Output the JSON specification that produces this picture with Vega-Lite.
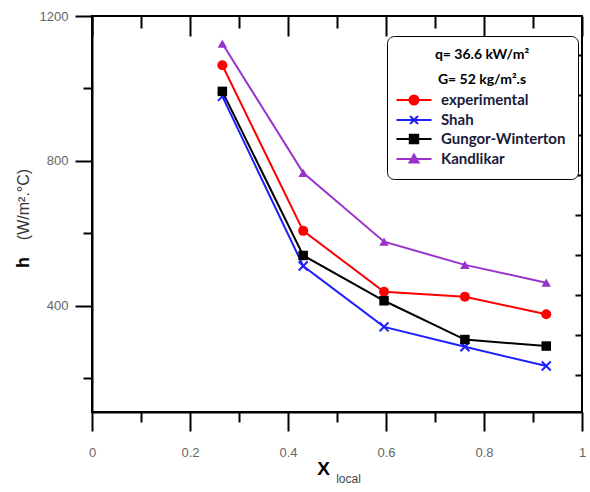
{
  "$schema": "https://vega.github.io/schema/vega-lite/v6.json",
  "autosize": "none",
  "padding": {"left": 92, "top": 16, "right": 8, "bottom": 80},
  "width": 490,
  "height": 396,
  "background": "white",
  "config": {
    "view": {"stroke": "#000", "strokeWidth": 2},
    "axis": {"grid": false, "tickColor": "#000", "tickWidth": 2, "domainColor": "#000", "domainWidth": 2, "labelFont": "Liberation Sans", "labelFontSize": 13, "labelColor": "#666", "labelFlush": false, "titleFont": "Liberation Sans"}
  },
  "data": {"values": [
    {"xl": 0.266, "h": 1064, "series": "experimental"},
    {"xl": 0.431, "h": 607, "series": "experimental"},
    {"xl": 0.596, "h": 439, "series": "experimental"},
    {"xl": 0.761, "h": 425, "series": "experimental"},
    {"xl": 0.927, "h": 377, "series": "experimental"},
    {"xl": 0.266, "h": 978, "series": "Shah"},
    {"xl": 0.431, "h": 510, "series": "Shah"},
    {"xl": 0.596, "h": 342, "series": "Shah"},
    {"xl": 0.761, "h": 287, "series": "Shah"},
    {"xl": 0.927, "h": 234, "series": "Shah"},
    {"xl": 0.266, "h": 992, "series": "Gungor-Winterton"},
    {"xl": 0.431, "h": 539, "series": "Gungor-Winterton"},
    {"xl": 0.596, "h": 414, "series": "Gungor-Winterton"},
    {"xl": 0.761, "h": 307, "series": "Gungor-Winterton"},
    {"xl": 0.927, "h": 289, "series": "Gungor-Winterton"},
    {"xl": 0.266, "h": 1124, "series": "Kandlikar"},
    {"xl": 0.431, "h": 767, "series": "Kandlikar"},
    {"xl": 0.596, "h": 577, "series": "Kandlikar"},
    {"xl": 0.761, "h": 513, "series": "Kandlikar"},
    {"xl": 0.927, "h": 464, "series": "Kandlikar"}
  ]},
  "resolve": {"axis": {"x": "independent", "y": "independent"}},
  "layer": [
    {
      "mark": {"type": "point", "filled": true, "size": 0, "opacity": 1, "strokeWidth": 2},
      "encoding": {
        "x": {"field": "xl", "type": "quantitative", "scale": {"domain": [0, 1], "nice": false, "zero": false}, "axis": null},
        "y": {"field": "h", "type": "quantitative", "scale": {"domain": [107, 1200], "nice": false, "zero": false}, "axis": null},
        "fill": {"field": "series", "type": "nominal",
          "scale": {"domain": ["experimental", "Shah", "Gungor-Winterton", "Kandlikar"], "range": ["#ff0000", "#1f1fff", "#000000", "#9933cc"]},
          "legend": {"orient": "none", "legendX": 295, "legendY": 20,
            "title": ["q= 36.6 kW/m²", "G= 52 kg/m².s"], "titleFont": "Lato", "titleFontSize": 14, "titleFontWeight": "bold", "titleColor": "#000", "titleAnchor": "middle", "titleLineHeight": 25, "titlePadding": 2,
            "labelFont": "Lato", "labelFontSize": 15, "labelFontWeight": "bold", "labelColor": "#1a1a3a", "labelOffset": 16, "labelLimit": 300,
            "symbolSize": 400, "symbolOffset": 4, "symbolStrokeWidth": 2, "symbolOpacity": 1, "rowPadding": 0,
            "strokeColor": "#000", "cornerRadius": 7, "padding": 12, "fillColor": "#fff"}},
        "stroke": {"field": "series", "type": "nominal",
          "scale": {"domain": ["experimental", "Shah", "Gungor-Winterton", "Kandlikar"], "range": ["#ff0000", "#1f1fff", "#000000", "#9933cc"]}},
        "shape": {"field": "series", "type": "nominal",
          "scale": {"domain": ["experimental", "Shah", "Gungor-Winterton", "Kandlikar"],
            "range": ["M-1.75,0H1.75M-0.45,0A0.45,0.45,0,1,0,0.45,0A0.45,0.45,0,1,0,-0.45,0Z", "M-1.75,0H1.75M-0.4,-0.4L0.4,0.4M-0.4,0.4L0.4,-0.4", "M-1.75,0H1.75M-0.42,-0.42H0.42V0.42H-0.42Z", "M-1.75,0H1.75M0,-0.45L0.45,0.35H-0.45Z"]}}
      }
    },
    {
      "mark": {"type": "line", "strokeWidth": 2},
      "encoding": {
        "x": {"field": "xl", "type": "quantitative",
          "axis": {"orient": "bottom", "values": [0, 0.2, 0.4, 0.6, 0.8, 1], "format": ".1~f", "tickSize": 19, "labelPadding": 15,
            "title": "X", "titleFontSize": 19, "titleFontWeight": "bold", "titleColor": "#000", "titleX": 231, "titleY": 56, "titleAlign": "center", "titleBaseline": "middle"}},
        "y": {"field": "h", "type": "quantitative",
          "axis": {"orient": "left", "values": [400, 800, 1200], "format": "d", "tickSize": 17, "labelPadding": 7,
            "title": "h", "titleFontSize": 18, "titleFontWeight": "bold", "titleColor": "#000", "titleX": -69, "titleY": 246, "titleAngle": 270, "titleAlign": "center", "titleBaseline": "middle"}},
        "color": {"field": "series", "type": "nominal", "legend": null,
          "scale": {"domain": ["experimental", "Shah", "Gungor-Winterton", "Kandlikar"], "range": ["#ff0000", "#1f1fff", "#000000", "#9933cc"]}},
        "detail": {"field": "series"}
      }
    },
    {
      "transform": [{"filter": "datum.series === 'experimental'"}],
      "mark": {"type": "point", "shape": "circle", "filled": true, "color": "#ff0000", "opacity": 1, "size": 100},
      "encoding": {
        "x": {"field": "xl", "type": "quantitative",
          "axis": {"orient": "bottom", "values": [0.1, 0.3, 0.5, 0.7, 0.9], "labels": false, "tickSize": 10, "domain": false,
            "title": "local", "titleFontSize": 12, "titleFontWeight": "normal", "titleColor": "#444", "titleX": 256, "titleY": 66, "titleAlign": "center", "titleBaseline": "middle"}},
        "y": {"field": "h", "type": "quantitative",
          "axis": {"orient": "left", "values": [200, 600, 1000], "labels": false, "tickSize": 9, "domain": false,
            "title": "(W/m².°C)", "titleFontSize": 16, "titleFontWeight": "normal", "titleColor": "#333", "titleX": -69, "titleY": 188, "titleAngle": 270, "titleAlign": "center", "titleBaseline": "middle"}}
      }
    },
    {
      "transform": [{"filter": "datum.series === 'Shah'"}],
      "mark": {"type": "point", "shape": "M-1,-1L1,1M-1,1L1,-1", "filled": false, "color": "#1f1fff", "strokeWidth": 2, "opacity": 1, "size": 80},
      "encoding": {
        "x": {"field": "xl", "type": "quantitative",
          "axis": {"orient": "top", "values": [0, 0.2, 0.4, 0.6, 0.8, 1], "labels": false, "tickSize": -20, "domain": false, "title": null}},
        "y": {"field": "h", "type": "quantitative",
          "axis": {"orient": "right", "values": [210, 320, 431, 541, 651, 761, 871, 981, 1091], "labels": false, "tickSize": -7, "domain": false, "title": null}}
      }
    },
    {
      "transform": [{"filter": "datum.series === 'Gungor-Winterton'"}],
      "mark": {"type": "point", "shape": "square", "filled": true, "color": "#000000", "opacity": 1, "size": 90},
      "encoding": {
        "x": {"field": "xl", "type": "quantitative",
          "axis": {"orient": "top", "values": [0.1, 0.3, 0.5, 0.7, 0.9], "labels": false, "tickSize": -12, "domain": false, "title": null}},
        "y": {"field": "h", "type": "quantitative", "axis": null}
      }
    },
    {
      "transform": [{"filter": "datum.series === 'Kandlikar'"}],
      "mark": {"type": "point", "shape": "triangle-up", "filled": true, "color": "#9933cc", "opacity": 1, "size": 90},
      "encoding": {
        "x": {"field": "xl", "type": "quantitative", "axis": null},
        "y": {"field": "h", "type": "quantitative", "axis": null}
      }
    }
  ]
}
